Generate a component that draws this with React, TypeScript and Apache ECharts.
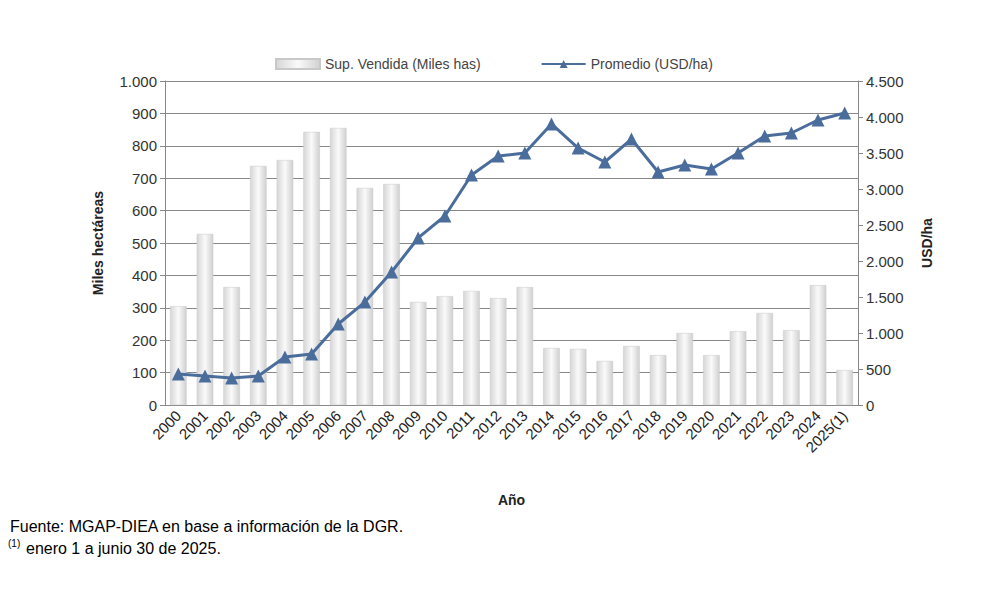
import { useRef, useEffect } from "react";
import * as echarts from "echarts";

const YEARS = ["2000","2001","2002","2003","2004","2005","2006","2007","2008","2009","2010","2011","2012","2013","2014","2015","2016","2017","2018","2019","2020","2021","2022","2023","2024","2025(1)"];
const SUP = [305,528,364,738,756,843,855,670,682,318,336,352,330,364,176,173,136,182,154,222,154,228,284,231,370,108];
const PROM = [430,403,375,403,667,708,1125,1430,1847,2320,2625,3194,3458,3500,3903,3569,3375,3694,3236,3333,3278,3500,3736,3778,3958,4056];

const fmt = (v: number) => v >= 1000 ? Math.floor(v / 1000) + "." + String(v % 1000).padStart(3, "0") : String(v);
const FONT = "Liberation Sans";

export default function App() {
  const ref = useRef<HTMLDivElement>(null);
  useEffect(() => {
    if (!ref.current) return;
    const chart = echarts.init(ref.current, null, { renderer: "svg" });
    const axisCommon = {
      axisLine: { show: true, lineStyle: { color: "#888" } },
      axisTick: { show: true, lineStyle: { color: "#888" } },
      axisLabel: { color: "#333", fontSize: 15, fontFamily: FONT, formatter: fmt },
      nameLocation: "middle" as const,
      nameTextStyle: { color: "#222", fontSize: 14, fontWeight: "bold" as const, fontFamily: FONT },
    };
    chart.setOption({
      animation: false,
      textStyle: { fontFamily: FONT },
      legend: {
        top: 52, left: 270, itemGap: 60, itemWidth: 44, itemHeight: 10,
        textStyle: { color: "#444", fontSize: 14, fontFamily: FONT },
        data: [{ name: "Sup. Vendida (Miles has)", icon: "rect" }, { name: "Promedio (USD/ha)" }],
      },
      grid: { left: 165, right: 142, top: 81, bottom: 187 },
      xAxis: {
        type: "category", data: YEARS,
        axisLine: { lineStyle: { color: "#888" } }, axisTick: { show: false },
        axisLabel: { rotate: 45, interval: 0, color: "#222", fontSize: 15, fontFamily: FONT },
        name: "Año", nameLocation: "middle", nameGap: 88,
        nameTextStyle: { color: "#222", fontSize: 14, fontWeight: "bold", fontFamily: FONT },
      },
      yAxis: [
        { ...axisCommon, type: "value", min: 0, max: 1000, interval: 100, name: "Miles hectáreas", nameGap: 60,
          splitLine: { show: true, lineStyle: { color: "#888" } } },
        { ...axisCommon, type: "value", min: 0, max: 4500, interval: 500, name: "USD/ha", nameGap: 62,
          splitLine: { show: false } },
      ],
      series: [
        { name: "Sup. Vendida (Miles has)", type: "bar", data: SUP, barWidth: "62%",
          itemStyle: { borderColor: "#c8c8c8", borderWidth: 0.5,
            color: new echarts.graphic.LinearGradient(0, 0, 1, 0, [
              { offset: 0, color: "#d6d6d6" }, { offset: 0.5, color: "#fafafa" }, { offset: 1, color: "#d0d0d0" }]) } },
        { name: "Promedio (USD/ha)", type: "line", yAxisIndex: 1, data: PROM,
          symbol: "triangle", symbolSize: 13,
          lineStyle: { color: "#4a6d9c", width: 3 }, itemStyle: { color: "#4a6d9c" } },
      ],
      graphic: [
        { type: "text", left: 10, top: 518, style: { text: "Fuente: MGAP-DIEA en base a información de la DGR.", fontSize: 16, fontFamily: FONT, fill: "#000" } },
        { type: "text", left: 8, top: 538, style: { text: "(1)", fontSize: 10, fontFamily: FONT, fill: "#000" } },
        { type: "text", left: 26, top: 540, style: { text: "enero 1 a junio 30 de 2025.", fontSize: 16, fontFamily: FONT, fill: "#000" } },
      ],
    });
    return () => chart.dispose();
  }, []);
  return <div ref={ref} style={{ width: 1000, height: 592, position: "absolute", left: 0, top: 0, background: "#fff" }} />;
}
